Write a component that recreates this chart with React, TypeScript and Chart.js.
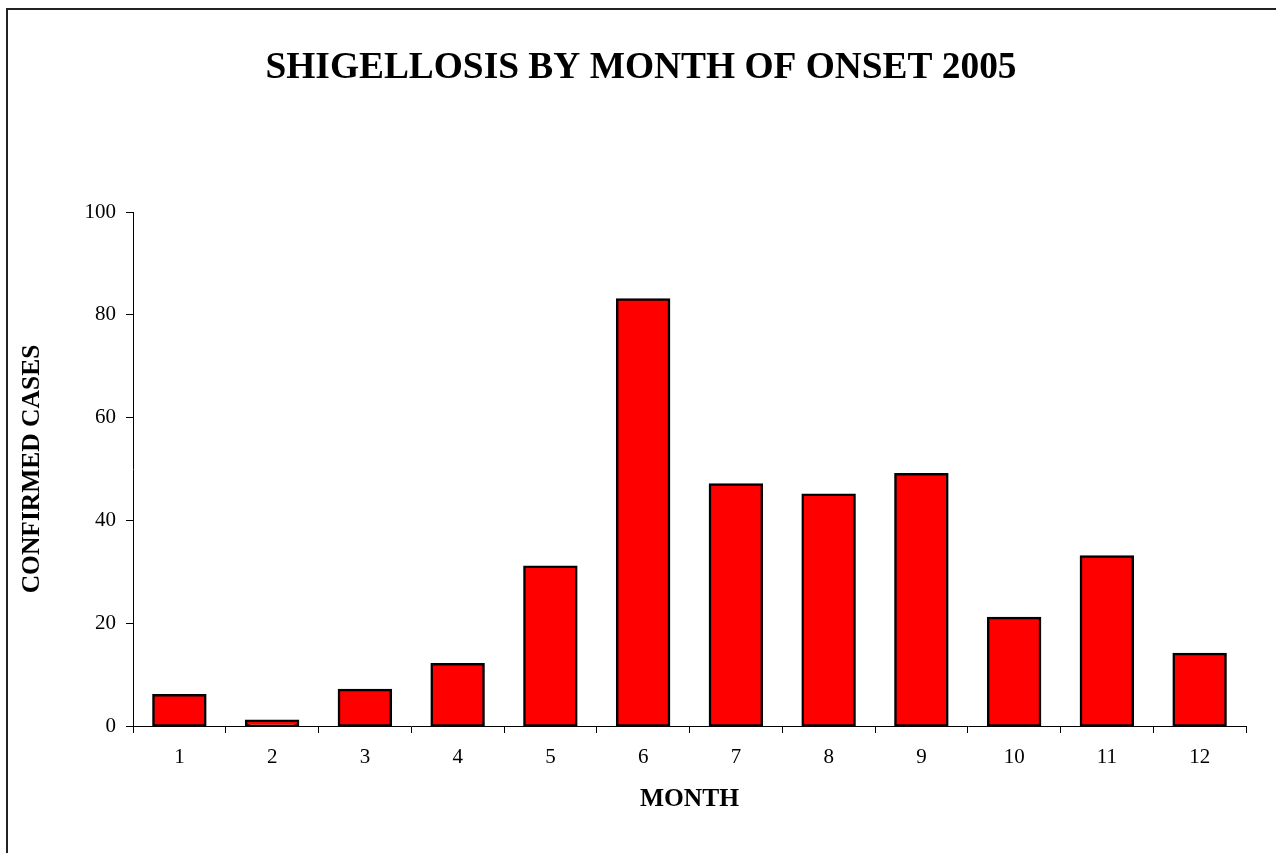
import React, { useEffect, useRef } from "react";
import { Chart, registerables } from "chart.js";

Chart.register(...registerables);

const months = ["1", "2", "3", "4", "5", "6", "7", "8", "9", "10", "11", "12"];
const confirmedCases = [6, 1, 7, 12, 31, 83, 47, 45, 49, 21, 33, 14];
const chartTitle = "SHIGELLOSIS BY MONTH OF ONSET 2005";
const xAxisTitle = "MONTH";
const yAxisTitle = "CONFIRMED CASES";

const FONT = "'Liberation Serif', 'Times New Roman', serif";

const frame = {
  id: "frame",
  beforeDraw(chart: any) {
    const ctx = chart.ctx;
    ctx.save();
    ctx.fillStyle = "#ffffff";
    ctx.fillRect(0, 0, chart.width, chart.height);
    ctx.strokeStyle = "#222222";
    ctx.lineWidth = 2;
    ctx.strokeRect(7, 9, chart.width + 50, chart.height + 50);
    ctx.fillStyle = "#000000";
    ctx.font = `bold 37.4px ${FONT}`;
    ctx.textAlign = "center";
    ctx.textBaseline = "middle";
    ctx.fillText(chartTitle, 641, 68);
    ctx.restore();
  },
};

export default function App() {
  const ref = useRef<HTMLCanvasElement>(null);
  useEffect(() => {
    if (!ref.current) return;
    const chart = new Chart(ref.current, {
      type: "bar",
      data: {
        labels: months,
        datasets: [
          {
            data: confirmedCases,
            backgroundColor: "#ff0000",
            borderColor: "#000000",
            borderWidth: 2.5,
            borderSkipped: false,
            inflateAmount: 1.25,
            categoryPercentage: 1,
            barPercentage: 0.56,
          },
        ],
      },
      options: {
        responsive: false,
        animation: false,
        layout: { padding: { left: 0, right: 30, top: 212, bottom: 0 } },
        plugins: {
          legend: { display: false },
          tooltip: { enabled: false },
          title: { display: false },
        },
        scales: {
          x: {
            offset: true,
            grid: {
              display: true,
              offset: true,
              drawOnChartArea: false,
              drawTicks: true,
              tickLength: 7,
              color: "#000",
            },
            border: { display: true, color: "#000", width: 1 },
            ticks: {
              color: "#000",
              font: { family: FONT, size: 21 },
              padding: 12,
              maxRotation: 0,
            },
            title: {
              display: true,
              text: xAxisTitle,
              color: "#000",
              font: { family: FONT, size: 25.5, weight: "bold", lineHeight: 1.2 },
              padding: { top: 0, bottom: 38 },
            },
            afterFit(scale: any) {
              scale.height = 127;
            },
          },
          y: {
            min: 0,
            max: 100,
            grid: {
              display: true,
              drawOnChartArea: false,
              drawTicks: true,
              tickLength: 7,
              color: "#000",
            },
            border: { display: true, color: "#000", width: 1 },
            ticks: {
              stepSize: 20,
              color: "#000",
              font: { family: FONT, size: 21 },
              padding: 10,
            },
            title: {
              display: true,
              text: yAxisTitle,
              color: "#000",
              font: { family: FONT, size: 25.5, weight: "bold", lineHeight: 1.2 },
              padding: { top: 17, bottom: 0 },
            },
            afterFit(scale: any) {
              scale.width = 133;
            },
          },
        },
      },
      plugins: [frame],
    });
    return () => chart.destroy();
  }, []);

  return (
    <div style={{ position: "absolute", left: 0, top: 0, width: 1276, height: 853 }}>
      <canvas ref={ref} width={1276} height={853} style={{ display: "block" }} />
    </div>
  );
}
